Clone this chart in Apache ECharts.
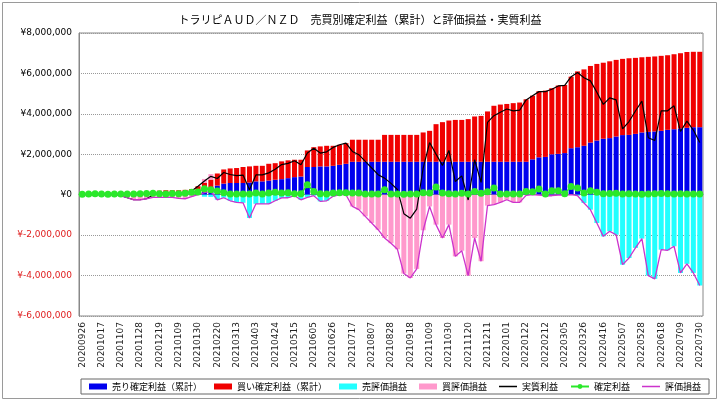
<!DOCTYPE html>
<html>
<head>
<meta charset="utf-8">
<script src="https://cdn.jsdelivr.net/npm/echarts@6/dist/echarts.min.js"></script>
<style>
html,body{margin:0;padding:0;background:#fff;}
#c{width:720px;height:402px;}
</style>
</head>
<body>
<div id="c"></div>
<script>
const dates = [
'20200926','20201003','20201010','20201017','20201024','20201031','20201107','20201114','20201121','20201128',
'20201205','20201212','20201219','20201226','20210102','20210109','20210116','20210123','20210130','20210206',
'20210213','20210220','20210227','20210306','20210313','20210320','20210327','20210403','20210410','20210417',
'20210424','20210501','20210508','20210515','20210522','20210529','20210605','20210612','20210619','20210626',
'20210703','20210710','20210717','20210724','20210731','20210807','20210814','20210821','20210828','20210904',
'20210911','20210918','20210925','20211002','20211009','20211016','20211023','20211030','20211106','20211113',
'20211120','20211127','20211204','20211211','20211218','20211225','20220101','20220108','20220115','20220122',
'20220129','20220205','20220212','20220219','20220226','20220305','20220312','20220319','20220326','20220402',
'20220409','20220416','20220423','20220430','20220507','20220514','20220521','20220528','20220604','20220611',
'20220618','20220625','20220702','20220709','20220716','20220723','20220730'];

// 売り確定利益（累計）
const sellProfit = [
0,0,0,0,0,0,0,0,0,0,
0,0,0,0,0,0,0,0,50000,150000,
300000,450000,550000,580000,580000,580000,600000,660000,660000,700000,
740000,770000,820000,870000,900000,1370000,1370000,1400000,1400000,1430000,
1480000,1530000,1630000,1630000,1630000,1630000,1630000,1630000,1630000,1630000,
1630000,1630000,1630000,1630000,1630000,1630000,1630000,1630000,1630000,1630000,
1630000,1630000,1630000,1630000,1630000,1630000,1630000,1630000,1630000,1630000,
1750000,1850000,1870000,2000000,2020000,2060000,2300000,2350000,2420000,2580000,
2680000,2770000,2800000,2880000,2950000,2960000,3010000,3080000,3110000,3130000,
3160000,3210000,3240000,3280000,3310000,3340000,3340000];

// 買い確定利益（累計）
const buyProfit = [
0,0,0,0,0,0,0,0,0,0,
0,120000,200000,220000,220000,220000,240000,280000,370000,430000,
450000,600000,700000,720000,740000,790000,800000,770000,770000,830000,
820000,880000,880000,860000,830000,820000,980000,990000,1020000,990000,
990000,1020000,1090000,1090000,1090000,1090000,1090000,1330000,1330000,1330000,
1330000,1330000,1330000,1450000,1530000,1860000,1960000,2040000,2070000,2070000,
2110000,2240000,2270000,2490000,2770000,2830000,2860000,2900000,2930000,3090000,
3150000,3270000,3280000,3270000,3380000,3370000,3540000,3750000,3780000,3790000,
3790000,3760000,3800000,3790000,3770000,3790000,3760000,3720000,3710000,3710000,
3710000,3690000,3710000,3720000,3750000,3730000,3730000];

// 売評価損益
const sellEval = [
0,0,0,0,0,0,0,0,0,0,
0,0,0,0,0,0,0,0,0,-100000,
-110000,-250000,-150000,-300000,-380000,-400000,-1150000,-450000,-450000,-450000,
-300000,-160000,-150000,-50000,-250000,-130000,-50000,-330000,-300000,-80000,
0,0,0,0,0,0,0,0,0,0,
0,0,0,0,0,0,0,0,0,0,
0,0,0,0,0,0,0,0,0,0,
0,0,0,0,0,0,0,-50000,-410000,-740000,
-1400000,-2060000,-1810000,-1980000,-3460000,-3130000,-2630000,-2170000,-4000000,-4160000,
-2720000,-2750000,-2550000,-3870000,-3420000,-3870000,-4490000];

// 買評価損益
const buyEval = [
0,0,0,0,0,0,-50000,-150000,-250000,-250000,
-200000,-130000,-130000,-120000,-130000,-180000,-200000,-100000,0,200000,
270000,0,0,0,0,0,0,0,0,0,
0,0,0,0,0,0,0,0,0,0,
0,0,-580000,-740000,-1070000,-1400000,-1730000,-2140000,-2400000,-2700000,
-3900000,-4120000,-3670000,-1760000,-580000,-1480000,-2140000,-1480000,-3050000,-2770000,
-4000000,-2140000,-3290000,-540000,-490000,-380000,-250000,-380000,-380000,-30000,
0,-20000,-50000,-50000,-20000,-20000,0,0,0,0,
0,0,0,0,0,0,0,0,0,0,
0,0,0,0,0,0,0];

// 実質利益
const realProfit = [
0,0,0,0,0,0,-50000,-150000,-250000,-250000,
-200000,-10000,70000,100000,90000,40000,40000,180000,420000,680000,
910000,800000,1100000,1000000,940000,970000,250000,980000,980000,1080000,
1260000,1490000,1550000,1680000,1480000,2060000,2300000,2060000,2120000,2340000,
2470000,2550000,2140000,1980000,1650000,1320000,990000,820000,560000,260000,
-940000,-1160000,-710000,1320000,2580000,2010000,1450000,2190000,650000,930000,
-260000,1730000,610000,3580000,3910000,4080000,4240000,4150000,4180000,4690000,
4900000,5100000,5100000,5220000,5380000,5410000,5840000,6050000,5790000,5630000,
5070000,4470000,4790000,4690000,3260000,3620000,4140000,4630000,2820000,2680000,
4150000,4150000,4400000,3130000,3640000,3200000,2580000];

// 確定利益（週次）
const fixedProfit = [
20000,30000,50000,40000,20000,30000,40000,30000,40000,50000,
60000,70000,50000,40000,60000,50000,70000,120000,140000,300000,
250000,180000,100000,40000,30000,30000,40000,80000,40000,90000,
120000,80000,100000,50000,50000,490000,160000,50000,40000,80000,
100000,100000,80000,80000,40000,30000,40000,250000,40000,30000,
20000,30000,30000,100000,80000,380000,80000,50000,30000,70000,
30000,160000,70000,150000,330000,40000,30000,40000,40000,160000,
150000,280000,40000,200000,200000,50000,410000,330000,80000,200000,
120000,50000,60000,70000,30000,50000,40000,20000,30000,50000,
60000,50000,40000,50000,30000,40000,30000];

// 評価損益
const evalPL = [
0,0,0,0,0,0,-50000,-150000,-250000,-250000,
-200000,-130000,-130000,-120000,-130000,-180000,-200000,-100000,0,100000,
160000,-250000,-150000,-300000,-380000,-400000,-1150000,-450000,-450000,-450000,
-300000,-160000,-150000,-50000,-250000,-130000,-50000,-330000,-300000,-80000,
0,0,-580000,-740000,-1070000,-1400000,-1730000,-2140000,-2400000,-2700000,
-3900000,-4120000,-3670000,-1760000,-580000,-1480000,-2140000,-1480000,-3050000,-2770000,
-4000000,-2140000,-3290000,-540000,-490000,-380000,-250000,-380000,-380000,-30000,
0,-20000,-50000,-50000,-20000,-20000,0,-50000,-410000,-740000,
-1400000,-2060000,-1810000,-1980000,-3460000,-3130000,-2630000,-2170000,-4000000,-4160000,
-2720000,-2750000,-2550000,-3870000,-3420000,-3870000,-4490000];

const yTicks = {min: -6000000, max: 8000000, interval: 2000000};

const chart = echarts.init(document.getElementById('c'), null, {renderer: 'canvas'});
const lab = {fontFamily: 'DejaVu Sans', fontSize: 9};
const jp = 'Noto Sans CJK JP';
const lineIcon = 'path://M0,0 L0.01,0 L0.01,0.01 Z M0,2.3 L18,2.3 L18,3.7 L0,3.7 Z M0,6 L0.01,6 L0.01,5.99 Z';
chart.setOption({
  animation: false,
  backgroundColor: '#fff',
  title: {
    text: 'トラリピＡＵＤ／ＮＺＤ　売買別確定利益（累計）と評価損益・実質利益',
    left: 'center', top: 9,
    textStyle: {fontFamily: jp, fontSize: 11, fontWeight: 'normal', color: '#000'}
  },
  graphic: [{
    type: 'rect', shape: {x: 2.5, y: 2.5, width: 714, height: 396},
    style: {fill: 'none', stroke: '#9a9a9a', lineWidth: 1}, silent: true, z: -1
  }],
  grid: {left: 79, right: 17, top: 33, bottom: 86, show: true, borderColor: '#888', borderWidth: 1, backgroundColor: '#fff'},
  legend: {
    left: 81, top: 379, padding: [3, 8, 3, 8], itemGap: 12, itemWidth: 18, itemHeight: 6,
    borderColor: '#666', borderWidth: 1,
    textStyle: {fontFamily: jp, fontSize: 9, color: '#000'},
    data: [
      {name: '売り確定利益（累計）', icon: 'rect'},
      {name: '買い確定利益（累計）', icon: 'rect'},
      {name: '売評価損益', icon: 'rect'},
      {name: '買評価損益', icon: 'rect'},
      {name: '実質利益', icon: lineIcon},
      {name: '確定利益'},
      {name: '評価損益', icon: lineIcon}
    ]
  },
  xAxis: {
    type: 'category', data: dates, boundaryGap: true,
    axisLine: {show: true, lineStyle: {color: '#888'}},
    axisTick: {show: false},
    axisLabel: Object.assign({interval: 2, rotate: 90, margin: 6, color: '#222'}, lab),
    splitLine: {show: false}
  },
  yAxis: {
    type: 'value', min: yTicks.min, max: yTicks.max, interval: yTicks.interval,
    axisLine: {show: true, lineStyle: {color: '#888'}},
    axisTick: {show: false},
    axisLabel: Object.assign({
      margin: 7,
      formatter: v => '¥' + Number(v).toLocaleString('en-US'),
      color: v => Number(v) < 0 ? '#E02020' : '#000'
    }, lab),
    splitLine: {show: true, lineStyle: {color: '#999', type: 'dotted', width: 1}}
  },
  series: [
    {name: '売り確定利益（累計）', type: 'bar', stack: 'all', data: sellProfit, barCategoryGap: '22%', itemStyle: {color: '#0000EE'}},
    {name: '買い確定利益（累計）', type: 'bar', stack: 'all', data: buyProfit, itemStyle: {color: '#F00000'}},
    {name: '売評価損益', type: 'bar', stack: 'all', data: sellEval, itemStyle: {color: '#22FFFF'}},
    {name: '買評価損益', type: 'bar', stack: 'all', data: buyEval, itemStyle: {color: '#FF99CC'}},
    {name: '実質利益', type: 'line', data: realProfit, symbol: 'none', showSymbol: false, lineStyle: {color: '#000', width: 1.2}, itemStyle: {color: '#000'}},
    {name: '確定利益', type: 'line', data: fixedProfit, symbol: 'circle', symbolSize: 7, showSymbol: true, showAllSymbol: true,
      lineStyle: {color: '#2AE82A', width: 1.5}, itemStyle: {color: '#2AE82A'}},
    {name: '評価損益', type: 'line', data: evalPL, symbol: 'none', showSymbol: false, lineStyle: {color: '#CC33CC', width: 1.3}, itemStyle: {color: '#CC33CC'}}
  ]
});
</script>
</body>
</html>
